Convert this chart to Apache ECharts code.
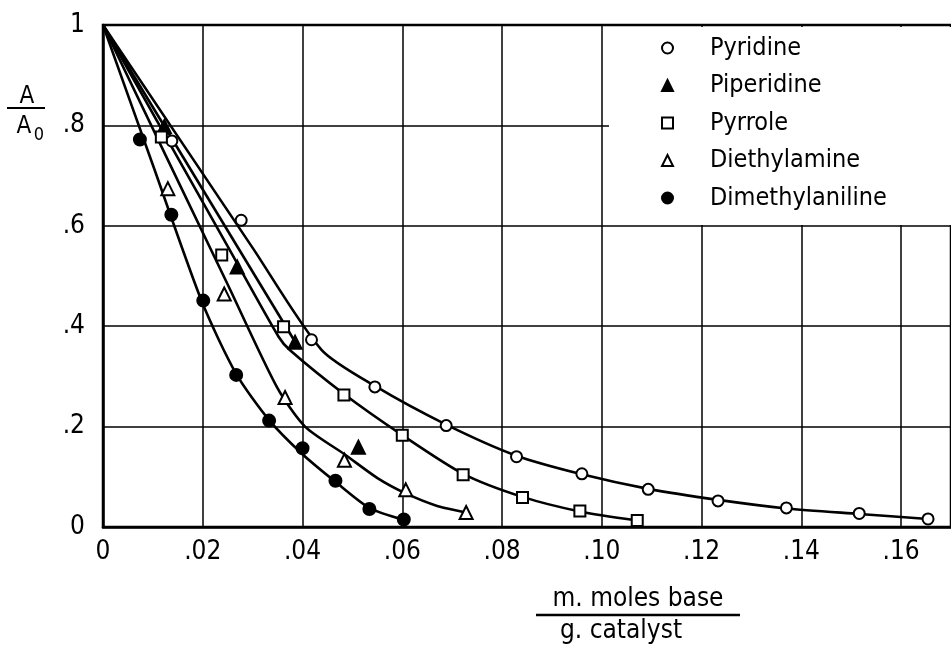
<!DOCTYPE html>
<html><head><meta charset="utf-8">
<script src="https://cdn.jsdelivr.net/npm/echarts@6/dist/echarts.min.js"></script>
<style>html,body{margin:0;padding:0;background:#fff}#c{width:951px;height:648px}</style>
</head><body><div id="c"></div>
<script>
// ---- data ----
const seriesNames = ['Pyridine', 'Piperidine', 'Pyrrole', 'Diethylamine', 'Dimethylaniline'];
const xTickLabels = ['0', '.02', '.04', '.06', '.08', '.10', '.12', '.14', '.16'];
const yTickLabels = ['0', '.2', '.4', '.6', '.8', '1'];

// measured points [m.moles base / g catalyst, A/A0]
const pyridinePts = [[0.0138,0.769],[0.0277,0.611],[0.0418,0.373],[0.0545,0.279],[0.0688,0.202],[0.0829,0.140],[0.0960,0.106],[0.1093,0.075],[0.1233,0.052],[0.1370,0.038],[0.1516,0.027],[0.1654,0.016]];
const piperidinePts = [[0.0123,0.798],[0.0269,0.518],[0.0385,0.368],[0.0512,0.159]];
const pyrrolePts = [[0.0117,0.777],[0.0238,0.542],[0.0362,0.399],[0.0483,0.263],[0.0600,0.183],[0.0722,0.104],[0.0841,0.059],[0.0956,0.032],[0.1071,0.013]];
const diethylaminePts = [[0.0130,0.674],[0.0243,0.464],[0.0365,0.258],[0.0484,0.133],[0.0607,0.074],[0.0728,0.029]];
const dimethylanilinePts = [[0.0074,0.772],[0.0137,0.622],[0.0201,0.451],[0.0267,0.303],[0.0333,0.212],[0.0400,0.157],[0.0466,0.092],[0.0534,0.036],[0.0603,0.015]];

// drawn curves
const pyridineCurve = [[0,1],[0.030,0.556],[0.0438,0.353],[0.0545,0.281],[0.0688,0.204],[0.0829,0.142],[0.0960,0.105],[0.1093,0.076],[0.1233,0.054],[0.1370,0.037],[0.1516,0.026],[0.1654,0.016]];
const piperidineCurve = [[0,1],[0.0385,0.369]];
const pyrroleCurve = [[0,1],[0.025,0.559],[0.0352,0.379],[0.0375,0.352],[0.0483,0.265],[0.0600,0.183],[0.0722,0.106],[0.0841,0.060],[0.0956,0.031],[0.1071,0.013]];
const diethylamineCurve = [[0,1],[0.025,0.483],[0.0349,0.278],[0.0405,0.200],[0.0484,0.145],[0.0551,0.097],[0.0607,0.067],[0.0670,0.042],[0.0728,0.029]];
const dimethylanilineCurve = [[0,1],[0.010,0.721],[0.0199,0.447],[0.0267,0.305],[0.0333,0.213],[0.0400,0.145],[0.0466,0.090],[0.0534,0.038],[0.0603,0.014]];

const pointSets = [pyridinePts, piperidinePts, pyrrolePts, diethylaminePts, dimethylanilinePts];
const curveSets = [pyridineCurve, piperidineCurve, pyrroleCurve, diethylamineCurve, dimethylanilineCurve];
const symbols = ['circle', 'triangle', 'rect', 'triangle', 'circle'];
const fills = ['#fff', '#000', '#fff', '#fff', '#000'];
const sizes = [11, 13, 11, 13, 12];

const series = [];
curveSets.forEach((c, i) => {
  series.push({
    name: seriesNames[i] + ' curve', type: 'line', data: c, showSymbol: false,
    smooth: 0.25, silent: true, z: 2,
    lineStyle: { color: '#000', width: 2.6 }
  });
});
pointSets.forEach((p, i) => {
  series.push({
    name: seriesNames[i], type: 'scatter', data: p, symbol: symbols[i], symbolSize: sizes[i], z: 3,
    itemStyle: { color: fills[i], borderColor: '#000', borderWidth: 2, opacity: 1 }
  });
});

const chart = echarts.init(document.getElementById('c'), null, { renderer: 'canvas' });
const COND = '"DejaVu Sans Condensed", "DejaVu Sans", sans-serif';
chart.setOption({
  animation: false,
  backgroundColor: '#fff',
  grid: { left: 103, top: 25, width: 855, height: 502, show: true, borderColor: '#000', borderWidth: 2.5, backgroundColor: 'transparent' },
  xAxis: {
    type: 'value', min: 0, max: 0.17, interval: 0.02,
    axisLine: { show: true, lineStyle: { color: '#000', width: 2.5 } },
    axisTick: { show: false },
    splitLine: { show: true, lineStyle: { color: '#000', width: 1.5 } },
    axisLabel: { showMaxLabel: false, color: '#000', fontFamily: COND, fontSize: 26, margin: 12,
      formatter: (v, i) => xTickLabels[i] !== undefined ? xTickLabels[i] : '' }
  },
  yAxis: {
    type: 'value', min: 0, max: 1, interval: 0.2,
    axisLine: { show: true, lineStyle: { color: '#000', width: 2.5 } },
    axisTick: { show: false },
    splitLine: { show: true, lineStyle: { color: '#000', width: 1.5 } },
    axisLabel: { color: '#000', fontFamily: COND, fontSize: 26, margin: 18,
      formatter: (v, i) => yTickLabels[i] !== undefined ? yTickLabels[i] : '' }
  },
  legend: {
    data: seriesNames.slice(),
    orient: 'vertical', left: 609, top: 27,
    padding: [8, 120, 14, 52],
    backgroundColor: '#fff',
    itemWidth: 11, itemHeight: 11, itemGap: 11.5,
    selectedMode: false,
    textStyle: { fontFamily: COND, fontSize: 25, color: '#000', lineHeight: 26, padding: [0, 0, 0, 32] }
  },
  graphic: [
    { type: 'text', x: 27, y: 97, style: { text: 'A', font: '24px ' + COND, fill: '#000', align: 'center', verticalAlign: 'middle' } },
    { type: 'line', shape: { x1: 7, y1: 108, x2: 45, y2: 108 }, style: { stroke: '#000', lineWidth: 2 } },
    { type: 'text', x: 24, y: 127, style: { text: 'A', font: '24px ' + COND, fill: '#000', align: 'center', verticalAlign: 'middle' } },
    { type: 'text', x: 39, y: 135, style: { text: '0', font: '18px ' + COND, fill: '#000', align: 'center', verticalAlign: 'middle' } },
    { type: 'text', x: 638, y: 599, style: { text: 'm. moles base', font: '26px ' + COND, fill: '#000', align: 'center', verticalAlign: 'middle' } },
    { type: 'line', shape: { x1: 536, y1: 615, x2: 740, y2: 615 }, style: { stroke: '#000', lineWidth: 2.5 } },
    { type: 'text', x: 621, y: 631, style: { text: 'g. catalyst', font: '26px ' + COND, fill: '#000', align: 'center', verticalAlign: 'middle' } }
  ],
  series: series
});
</script></body></html>
